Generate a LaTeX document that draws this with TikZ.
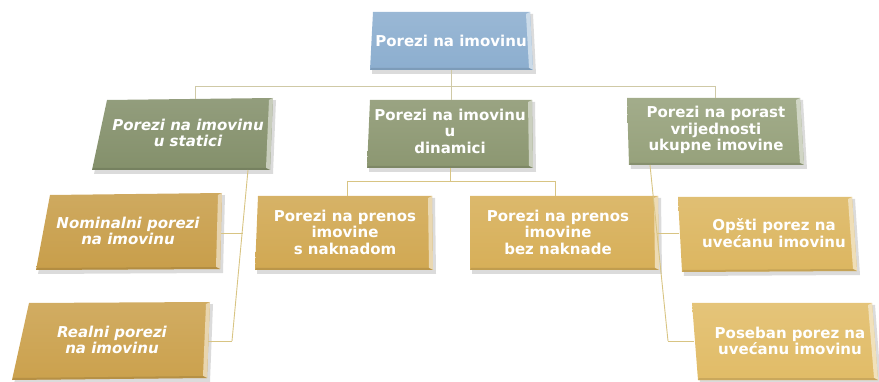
\documentclass[tikz,border=0pt]{standalone}
\usepackage{fontspec}
\setmainfont{DejaVu Sans}
\usetikzlibrary{calc}
\definecolor{topc}{HTML}{8CAECF}
\definecolor{grnA}{HTML}{84906B}
\definecolor{grnB}{HTML}{8C9771}
\definecolor{grnC}{HTML}{96A17B}
\definecolor{gldA}{HTML}{C89E4A}
\definecolor{gldB}{HTML}{CBA14D}
\definecolor{gldC}{HTML}{D1A852}
\definecolor{gldD}{HTML}{D7AF58}
\definecolor{gldE}{HTML}{DCB660}
\definecolor{gldF}{HTML}{E1BC67}
\definecolor{lineA}{HTML}{CFC9A6}
\definecolor{lineB}{HTML}{D8C483}
\newcommand\pquad[5]{%
  \fill[black,opacity=.14] ($(#1)+(2,2)$) -- ($(#2)+(3,2)$) -- ($(#3)+(3,4)$) -- ($(#4)+(2,4)$) -- cycle;
  \shade[top color=#5!88!white, bottom color=#5] (#1) -- (#2) -- (#3) -- (#4) -- cycle;
  \fill[#5!45!white] ($(#2)+(-4,2)$) -- (#2) -- (#3) -- ($(#3)+(-4,-2)$) -- cycle;
  \fill[#5!80!black,opacity=.5] ($(#4)+(1,-2)$) -- ($(#3)+(-4,-2)$) -- (#3) -- (#4) -- cycle;
}
\begin{document}
\begin{tikzpicture}[x=1pt,y=-1pt,
  lbl/.style={text=white,font=\bfseries\fontsize{15}{16.5}\selectfont,align=center,inner sep=0pt},
  ilbl/.style={lbl,font=\bfseries\itshape\fontsize{15}{16.5}\selectfont},
  conn/.style={draw=lineA,line width=0.9pt},
  conn2/.style={draw=lineB,line width=0.9pt}]
\useasboundingbox (0,0) rectangle (879,382);

% boxes
\pquad{373,12}{530,12}{533,70}{370,70}{topc}
\pquad{107,100}{273,98}{270,170}{92,170}{grnA}
\pquad{370,100}{532,100}{533,168}{367,168}{grnB}
\pquad{627,98}{800,98}{804,165}{629,165}{grnC}
\pquad{50,195}{222,193}{220,269}{36,270}{gldA}
\pquad{29,303}{210,302}{207,378}{12,380}{gldB}
\pquad{258,196}{432,196}{433,270}{255,270}{gldC}
\pquad{470,196}{658,196}{659,270}{470,270}{gldD}
\pquad{678,197}{852,197}{857,271}{682,272}{gldE}
\pquad{692,303}{872,303}{878,380}{698,380}{gldF}

% labels
\node[lbl,minimum height=58pt] (top) at (451,41) {Porezi na imovinu};
\node[ilbl,minimum height=70pt] (lg) at (188,133) {Porezi na imovinu\\u statici};
\node[lbl,minimum height=68pt] (mg) at (450,131) {Porezi na imovinu\\u\\dinamici};
\node[lbl,minimum height=67pt] (rg) at (716,130) {Porezi na porast\\vrijednosti\\ukupne imovine};
\node[ilbl,minimum height=76pt] (nom) at (128,231) {Nominalni porezi\\na imovinu};
\node[ilbl,minimum height=76pt] (real) at (112,340) {Realni porezi\\na imovinu};
\node[lbl,minimum height=74pt] (sn) at (345,232) {Porezi na prenos\\imovine\\s naknadom};
\node[lbl,minimum height=74pt] (bn) at (558,232) {Porezi na prenos\\imovine\\bez naknade};
\node[lbl,minimum height=74pt] (op) at (774,233) {Opšti porez na\\uvećanu imovinu};
\node[lbl,minimum height=76pt] (pos) at (790,341) {Poseban porez na\\uvećanu imovinu};

% connectors (top level)
\coordinate (hM) at (451,86);
\coordinate (hL) at (195,86);
\coordinate (hR) at (715,86);
\draw[conn] (451,70) -- (hM);
\draw[conn] (hL) -- (hR);
\draw[conn] (hL) -- (195,99);
\draw[conn] (hM) -- (451,100);
\draw[conn] (hR) -- (715,98);

% left tree
\coordinate (lt) at (248,170);
\coordinate (lm) at (243,233);
\coordinate (lb) at (232,341);
\coordinate (ne) at (221,233);
\coordinate (re) at (208,341);
\draw[conn2] (lt) -- (lb);
\draw[conn2] (ne) -- (lm);
\draw[conn2] (re) -- (lb);

% middle tree
\coordinate (mj) at (450,181);
\coordinate (mjL) at (347,181);
\coordinate (mjR) at (555,181);
\draw[conn2] (450,168) -- (mj);
\draw[conn2] (mjL) -- (mjR);
\draw[conn2] (mjL) -- (347,196);
\draw[conn2] (mjR) -- (555,196);

% right tree
\coordinate (rt) at (650,165);
\coordinate (rm) at (657,233);
\coordinate (rb) at (668,341);
\coordinate (ow) at (679,233);
\coordinate (pw) at (694,341);
\draw[conn2] (rt) -- (rb);
\draw[conn2] (rm) -- (ow);
\draw[conn2] (rb) -- (pw);
\end{tikzpicture}
\end{document}
